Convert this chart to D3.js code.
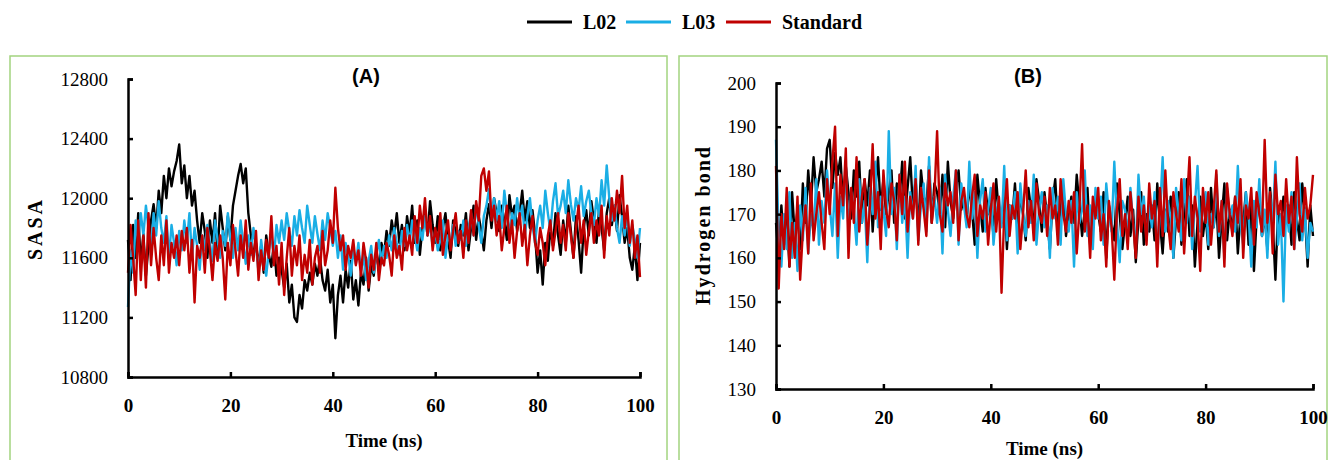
<!DOCTYPE html>
<html>
<head>
<meta charset="utf-8">
<script src="https://cdn.jsdelivr.net/npm/d3@7"></script>
<style>
  body { margin: 0; background: #fff; }
  svg { display: block; }
  text { font-family: "Liberation Serif", "Times New Roman", serif; fill: #000; }
</style>
</head>
<body>
<svg id="chart" width="1329" height="460"></svg>
<script>
// dependencies: d3

// time axis (ns), one frame every 0.5 ns
var timeNs = d3.range(0, 100.01, 0.5);
var xTicks = [0, 20, 40, 60, 80, 100];
var sasaTicks = [10800, 11200, 11600, 12000, 12400, 12800];
var hbondTicks = [130, 140, 150, 160, 170, 180, 190, 200];
var seriesNames = ["L02", "L03", "Standard"];
var seriesColors = ["#000000", "#1aaee5", "#c00000"];

// (A) SASA
var sasaL02 = [
  11720, 11450, 11820, 11600, 11900, 11550, 11760, 11480, 11680, 11850,
  11960, 11800, 12050, 11900, 12150, 12000, 12200, 12080, 12180, 12250,
  12360, 12100, 12220, 12000, 12150, 11950, 12050, 11850, 11700, 11900,
  11780, 11600, 11850, 11700, 11900, 11620, 11950, 11800, 11650, 11880,
  11720, 11950, 12050, 12150, 12230, 12100, 12200, 11900, 11750, 11620,
  11700, 11550, 11680, 11500, 11750, 11620, 11540, 11700, 11480, 11600,
  11520, 11400, 11560, 11300, 11420, 11200, 11170, 11350, 11260, 11450,
  11380, 11500, 11420, 11560, 11480, 11600, 11450, 11380, 11520, 11300,
  11420, 11060, 11350, 11480, 11300, 11520, 11400, 11580, 11320, 11450,
  11280, 11500, 11420, 11600, 11380, 11550, 11480, 11650, 11520, 11700,
  11620, 11780, 11680, 11850, 11750, 11900, 11700, 11820, 11650, 11880,
  11760, 11950, 11700, 11850, 11620, 11800, 11900, 11750, 11980, 11820,
  11700, 11880, 11650, 11800, 11900, 11720, 11600, 11850, 11780, 11680,
  11820, 11750, 11900, 11650, 11800, 11950, 11720, 11880, 11780, 11650,
  11850, 11960, 11800, 12000, 11900, 11780, 11950, 11850, 11720, 12020,
  11880, 11950, 11780, 11900, 12050, 11850, 11980, 11800, 11920, 11760,
  11500, 11650, 11420, 11700, 11580, 11800, 11680, 11900, 11750, 11620,
  11850, 11700, 11950, 11780, 11600, 11880, 11720, 11500, 11800, 11920,
  11750, 11980, 11850, 11700, 11920, 11800, 11650, 11900, 12000, 11820,
  11950, 11780, 12020, 11880, 11700, 11800, 11600, 11520, 11680, 11450,
  11700
];
var sasaL03 = [
  11270, 11650, 11500, 11850, 11700, 11900, 11750, 11950, 11800, 11650,
  11900, 11750, 11980, 11800, 11700, 11880, 11600, 11820, 11700, 11550,
  11780, 11650, 11850, 11700, 11900, 11600, 11800, 11680, 11520, 11750,
  11650, 11820, 11700, 11580, 11850, 11720, 11600, 11780, 11680, 11900,
  11720, 11600, 11800, 11650, 11850, 11700, 11560, 11750, 11620, 11800,
  11680, 11500, 11720, 11580, 11480, 11650, 11750, 11600, 11820, 11700,
  11850, 11720, 11900, 11780, 11680, 11880, 11750, 11920, 11800, 11700,
  11950, 11820, 11700, 11880, 11760, 11650, 11850, 11720, 11900, 11800,
  11680, 11780, 11600, 11750, 11520, 11700, 11620, 11480, 11650, 11560,
  11700, 11500, 11620, 11450, 11580, 11680, 11500, 11620, 11720, 11560,
  11680, 11600, 11750, 11650, 11800, 11700, 11620, 11780, 11680, 11820,
  11700, 11850, 11760, 11650, 11800, 11720, 11880, 11750, 11820, 11680,
  11780, 11650, 11720, 11850, 11600, 11750, 11700, 11820, 11680, 11780,
  11720, 11850, 11680, 11800, 11900, 11750, 11960, 11820, 11700, 11880,
  11950, 12060, 11880, 12000, 11850, 11980, 11800, 12050, 11900, 11760,
  11900, 11820, 12000, 11850, 11950, 11750, 11880, 12000, 11820, 11700,
  11850, 11950, 11800, 12050, 11900, 11780, 11980, 12100, 11880, 11950,
  12050, 11900, 12120, 11960, 11850, 12000, 11920, 12080, 11880, 11980,
  12050, 11900, 11820, 12000, 11880, 12120, 11950, 12220, 12000, 11850,
  11950, 11800, 11700, 11880, 11750, 11900, 11680, 11820, 11720, 11600,
  11800
];
var sasaStd = [
  11500, 11820, 11600, 11350, 11850, 11450, 11750, 11400, 11900, 11550,
  11800, 11600, 11450, 11750, 11550, 11850, 11500, 11700, 11600, 11750,
  11550, 11780, 11650, 11800, 11500, 11720, 11300, 11680, 11600, 11750,
  11500, 11800, 11650, 11450, 11700, 11580, 11750, 11600, 11320, 11700,
  11550, 11820, 11650, 11480, 11750, 11600, 11850, 11520, 11700, 11580,
  11780, 11450, 11650, 11520, 11720, 11600, 11880, 11550, 11680, 11420,
  11700, 11350, 11600, 11800, 11480, 11680, 11550, 11750, 11450, 11620,
  11500, 11720, 11420, 11600, 11680, 11500, 11780, 11550, 11650, 11850,
  11700, 12070, 11800, 11650, 11750, 11520, 11680, 11600, 11720, 11550,
  11650, 11480, 11700, 11580, 11400, 11620, 11520, 11700, 11450, 11600,
  11550, 11700, 11620, 11480, 11750, 11600, 11680, 11520, 11800, 11650,
  11750, 11620, 11880, 11700, 11950, 11800, 12000, 11750, 11880, 11650,
  11800, 11700, 11900, 11620, 11750, 11850, 11650, 11780, 11900, 11700,
  11780, 11600, 11850, 11700, 11920, 11750, 11980, 11850, 12150, 12200,
  12050, 12180, 11850, 11950, 11750, 11880, 11650, 11800, 11950, 11700,
  11850, 11600, 11780, 11900, 11680, 11820, 11550, 11750, 11880, 11700,
  11620, 11800, 11700, 11550, 11750, 11850, 11650, 11780, 11900, 11700,
  11820, 11650, 11900, 11750, 11600, 11800, 11950, 11700, 11850, 11620,
  11780, 11900, 11700, 11850, 11750, 11950, 11600, 11880, 11750, 12000,
  11850, 12050, 11900, 12150, 11800, 11950, 11700, 11850, 11600, 11750,
  11470
];

// (B) hydrogen bonds
var hbondL02 = [
  168, 160, 172, 163, 170, 158, 175, 165, 171, 162,
  177, 168, 180, 172, 183, 175, 178, 182, 174, 185,
  187, 176, 184, 179, 183, 172, 181, 175, 169, 180,
  174, 182, 168, 178, 172, 180, 166, 176, 183, 171,
  178, 170, 175, 180, 168, 177, 173, 182, 169, 176,
  183, 171, 178, 166, 180, 174, 172, 181, 168, 177,
  175, 170, 179, 167, 182, 173, 169, 176, 180, 171,
  174, 168, 177, 171, 163, 179, 172, 166, 176, 170,
  173, 165, 178, 170, 168, 175, 162, 172, 169, 177,
  167, 174, 170, 164, 176, 171, 168, 178, 173, 166,
  175, 169, 162, 173, 178, 167, 171, 176, 165, 170,
  174, 168, 179, 172, 165, 171, 176, 163, 169, 174,
  170, 166, 175, 160, 172, 168, 164, 177, 170, 162,
  168, 174, 165, 171, 159, 169, 175, 163, 170, 166,
  172, 164, 177, 168, 161, 171, 166, 174, 160, 169,
  175, 163, 170, 178, 165, 172, 158, 168, 174, 165,
  170, 162, 176, 167, 173, 160, 169, 177, 164, 171,
  166, 174, 161, 170, 168, 175, 163, 172, 157, 169,
  173, 165, 170, 162, 176, 168, 155, 171, 166, 174,
  168, 172, 163, 175, 169, 164, 177, 170, 158, 172,
  165
];
var hbondL03 = [
  187, 165, 158, 170, 162, 175, 160, 168, 157, 172,
  164, 176, 161, 170, 166, 178, 163, 173, 168, 180,
  172, 165, 177, 160, 174, 169, 181, 166, 175, 171,
  163, 178, 168, 173, 159, 176, 170, 182, 167, 174,
  171, 165, 189, 170, 176, 162, 179, 168, 174, 160,
  175, 169, 181, 164, 172, 177, 166, 183, 170, 174,
  168, 176, 161, 179, 171, 165, 174, 180, 163, 177,
  172, 167, 182, 169, 175, 160, 173, 178, 166, 171,
  176, 163, 170, 174, 167, 181, 164, 172, 169, 175,
  161, 177, 170, 165, 173, 168, 179, 163, 171, 175,
  167, 172, 160, 176, 169, 174, 163, 178, 170, 166,
  173, 158, 175, 168, 171, 180, 165, 172, 162, 176,
  169, 174, 163, 177, 170, 166, 182, 168, 159, 173,
  171, 165, 176, 168, 162, 179, 170, 174, 164, 172,
  167, 175, 161, 170, 183, 166, 173, 169, 160, 176,
  170, 164, 178, 168, 174, 162, 172, 181, 166, 171,
  175, 163, 170, 167, 179, 165, 173, 160, 176, 169,
  172, 166, 181, 168, 163, 175, 170, 158, 173, 167,
  178, 165, 171, 160, 174, 168, 182, 163, 170, 150,
  172, 166, 175, 162, 169, 177, 164, 171, 160, 168,
  166
];
var hbondStd = [
  181, 153, 170, 162, 176, 158, 168, 160, 174, 155,
  166, 172, 161, 177, 164, 170, 175, 168, 162, 178,
  170, 182, 190, 165, 179, 172, 185, 160, 176, 168,
  183, 166, 174, 178, 163, 172, 186, 169, 175, 162,
  180, 171, 167, 177, 173, 164, 179, 170, 182, 166,
  174, 169, 178, 163, 176, 171, 165, 180, 168, 174,
  189, 170, 166, 177, 172, 175, 168, 180, 164, 173,
  176, 170, 167, 174, 179, 165, 172, 169, 175, 163,
  171, 177, 166, 174, 152, 170, 178, 165, 172, 169,
  175, 162, 170, 180, 167, 173, 164, 177, 170, 168,
  174, 165, 176, 169, 172, 163, 178, 170, 166, 173,
  168, 175, 161, 171, 186, 166, 172, 160, 174, 169,
  176, 164, 170, 158, 173, 167, 155, 171, 178, 165,
  170, 162, 175, 168, 160, 174, 166, 172, 163, 177,
  169, 173, 158, 176, 165, 180, 168, 162, 175, 170,
  166, 178, 161, 172, 183, 165, 174, 169, 157, 176,
  168, 175, 163, 171, 180, 166, 173, 158, 177, 170,
  165, 174, 168, 178, 160, 172, 169, 176, 163, 175,
  170, 166, 187, 168, 175, 161, 179, 170, 173, 165,
  178, 168, 174, 162, 183, 170, 166, 176, 169, 172,
  179
];

var svg = d3.select("#chart");
var borderColor = "#a3d47f";

// one panel per measurement
function drawPanel(cfg) {
  svg.append("rect")
    .attr("x", cfg.box[0]).attr("y", cfg.box[1])
    .attr("width", cfg.box[2]).attr("height", cfg.box[3])
    .attr("fill", "none")
    .attr("stroke", borderColor)
    .attr("stroke-width", 1.5);

  var x = d3.scaleLinear().domain([0, 100]).range([cfg.left, cfg.right]);
  var y = d3.scaleLinear().domain(cfg.yDomain).range([cfg.bottom, cfg.top]);

  var line = d3.line()
    .x(function(d) { return x(d[0]); })
    .y(function(d) { return y(d[1]); });

  cfg.series.forEach(function(vals, i) {
    svg.append("path")
      .datum(vals.map(function(v, j) { return [timeNs[j], v]; }))
      .attr("fill", "none")
      .attr("stroke", seriesColors[i])
      .attr("stroke-width", 2.4)
      .attr("stroke-linejoin", "round")
      .attr("d", line);
  });

  var yAxis = svg.append("g")
    .attr("transform", "translate(" + cfg.left + ",0)")
    .call(d3.axisLeft(y).tickValues(cfg.yTicks).tickFormat(d3.format("d"))
      .tickSizeInner(-5).tickSizeOuter(-5).tickPadding(20));
  yAxis.select(".domain").attr("stroke-width", 2.5);
  yAxis.selectAll(".tick line").attr("stroke-width", 2.5);
  yAxis.selectAll("text")
    .style("font-family", '"Liberation Serif", serif')
    .style("font-size", "19px")
    .attr("fill", "#000");

  var xAxis = svg.append("g")
    .attr("transform", "translate(0," + cfg.bottom + ")")
    .call(d3.axisBottom(x).tickValues(xTicks).tickSizeInner(-5).tickSizeOuter(-5).tickPadding(22));
  xAxis.select(".domain").attr("stroke-width", 2.5);
  xAxis.selectAll(".tick line").attr("stroke-width", 2.5);
  xAxis.selectAll("text")
    .style("font-family", '"Liberation Serif", serif')
    .style("font-size", "19px")
    .style("font-weight", "bold")
    .attr("fill", "#000");

  svg.append("text")
    .attr("x", (cfg.left + cfg.right) / 2)
    .attr("y", cfg.xTitleY)
    .attr("text-anchor", "middle")
    .style("font-size", "19px")
    .style("font-weight", "bold")
    .text("Time (ns)");

  svg.append("text")
    .attr("transform", "translate(" + cfg.yTitlePos[0] + "," + cfg.yTitlePos[1] + ") rotate(-90)")
    .attr("text-anchor", "middle")
    .attr("dy", "0.35em")
    .attr("textLength", cfg.yTitleLen)
    .style("font-size", "20px")
    .style("font-weight", "bold")
    .text(cfg.yTitle);

  svg.append("text")
    .attr("x", cfg.tag[0]).attr("y", cfg.tag[1])
    .attr("text-anchor", "middle")
    .style("font-family", '"Liberation Sans", Arial, sans-serif')
    .style("font-size", "20px")
    .style("font-weight", "bold")
    .text(cfg.tagText);
}

drawPanel({
  box: [10, 56, 657, 420],
  left: 128, right: 640, top: 79, bottom: 377,
  yDomain: [10800, 12800], yTicks: sasaTicks,
  series: [sasaL02, sasaL03, sasaStd],
  xTitleY: 447, yTitle: "SASA", yTitlePos: [35, 230], yTitleLen: 60,
  tag: [366, 83], tagText: "(A)"
});

drawPanel({
  box: [679, 56, 648, 420],
  left: 776, right: 1313, top: 83, bottom: 389,
  yDomain: [130, 200], yTicks: hbondTicks,
  series: [hbondL02, hbondL03, hbondStd],
  xTitleY: 455, yTitle: "Hydrogen bond", yTitlePos: [703, 226], yTitleLen: 158,
  tag: [1028, 83], tagText: "(B)"
});

// legend
var legendX = [527, 626, 726];
var legend = svg.append("g");
seriesNames.forEach(function(name, i) {
  legend.append("line")
    .attr("x1", legendX[i]).attr("x2", legendX[i] + 45)
    .attr("y1", 22).attr("y2", 22)
    .attr("stroke", seriesColors[i])
    .attr("stroke-width", 3);
  legend.append("text")
    .attr("x", legendX[i] + 56).attr("y", 29)
    .style("font-size", "20px")
    .style("font-weight", "bold")
    .text(name);
});
</script>
</body>
</html>
